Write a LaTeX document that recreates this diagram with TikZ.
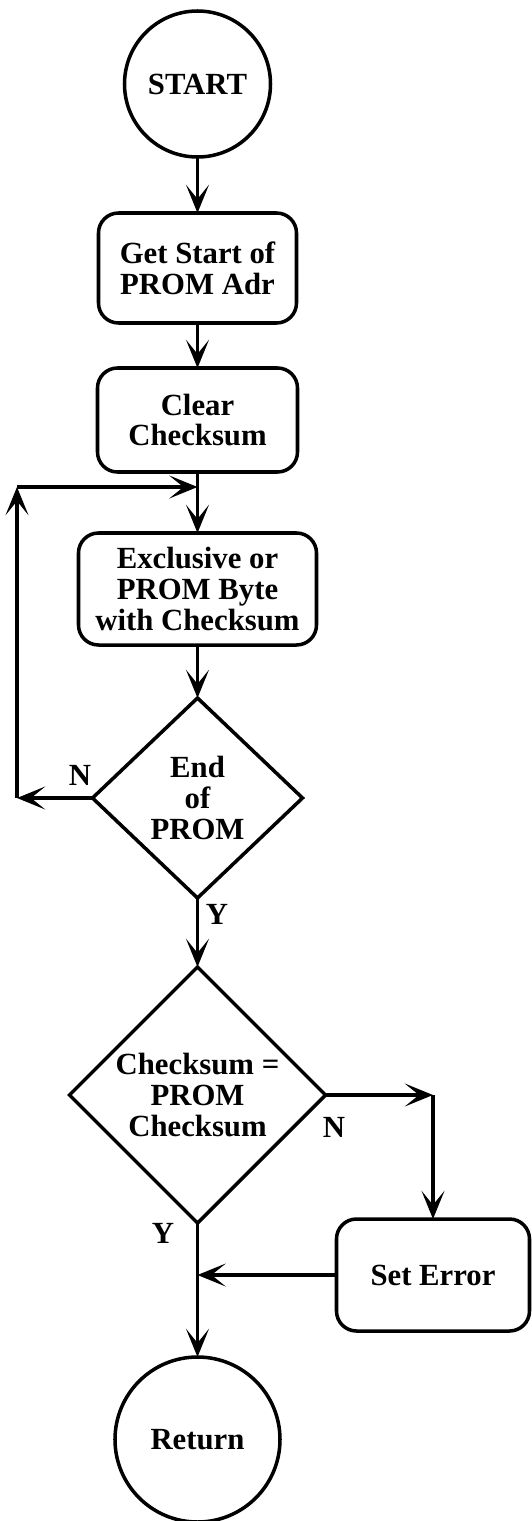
\documentclass[tikz,border=0pt]{standalone}
\usepackage{fontspec}
\setmainfont{Liberation Serif}
\usetikzlibrary{positioning,shapes.geometric,arrows.meta}

\begin{document}
\begin{tikzpicture}[every node/.style={font=\bfseries\fontsize{17.5}{17.6}\selectfont,
  align=center,outer sep=0pt,line width=2pt},
  term/.style={draw,circle,inner sep=0},
  proc/.style={draw,rectangle,rounded corners=0.4cm,inner sep=0},
  test/.style={draw,diamond,inner sep=0},
  lbl/.style={inner sep=0},
  >={Stealth[length=16pt,width=13pt,inset=8pt]},
  line width=2pt]

\useasboundingbox (0,0) rectangle (10.62,-30.42);

% main column
\node[term,minimum size=2.92cm] (start) at (3.95,-1.68) {START};
\node[proc,minimum width=3.96cm,minimum height=2.2cm,below=1.12cm of start] (adr) {Get Start of\\PROM Adr};
\node[proc,minimum width=4cm,minimum height=2.08cm,below=0.9cm of adr] (clr) {Clear\\Checksum};
\node[proc,minimum width=4.76cm,minimum height=2.24cm,below=1.22cm of clr] (xor) {Exclusive or\\PROM Byte\\with Checksum};
\node[test,minimum width=4.2cm,minimum height=4cm,below=1.06cm of xor] (endp) {End\\of\\PROM};
\node[test,minimum width=5.12cm,minimum height=5.12cm,below=1.38cm of endp] (cmp) {Checksum =\\PROM\\Checksum};
\node[term,minimum size=3.3cm,below=2.68cm of cmp] (ret) {Return};

% error branch
\node[proc,minimum width=3.86cm,minimum height=2.24cm] (err) at (8.66,-25.5) {Set Error};

\draw[->] (start) -- (adr);
\draw[->] (adr) -- (clr);
\draw[->] (clr) -- (xor);
\draw[->] (xor) -- (endp);
\draw[->] (endp) -- (cmp);
\draw[->] (cmp) -- (ret);

% loop back for the next byte
\coordinate (jn) at (3.95,-9.74);
\coordinate (lt) at (0.34,-9.74);
\coordinate (lb) at (lt |- endp.west);
\draw[->] (endp.west) -- (lb);
\draw[->] (lb) -- (lt);
\draw[->] (lt) -- (jn);

\coordinate (rc) at (err.north |- cmp.east);
\coordinate (rj) at (cmp.south |- err.west);
\draw[->] (cmp.east) -- (rc);
\draw[->] (rc) -- (err.north);
\draw[->] (err.west) -- (rj);

\node[lbl] (n1) at (1.6,-15.5) {N};
\node[lbl] (y1) at (4.34,-18.28) {Y};
\node[lbl] (n2) at (6.68,-22.54) {N};
\node[lbl] (y2) at (3.26,-24.66) {Y};

\end{tikzpicture}
\end{document}
